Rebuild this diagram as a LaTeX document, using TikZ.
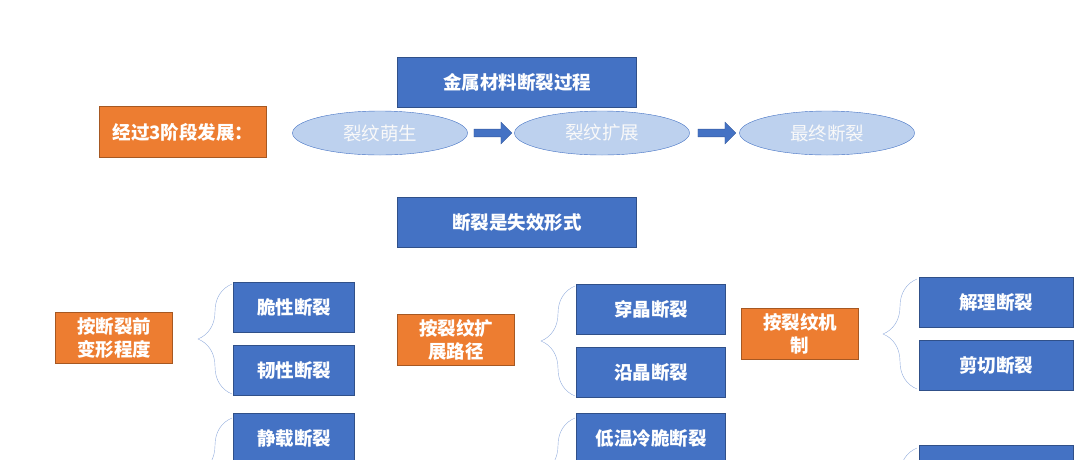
\documentclass[tikz,border=0pt]{standalone}
\usepackage{fontspec}
\setmainfont{Noto Sans CJK SC}
\usetikzlibrary{shapes.geometric,shapes.arrows,decorations.pathreplacing}
\definecolor{boxblue}{HTML}{4472C4}
\definecolor{boxorange}{HTML}{ED7D31}
\definecolor{ellfill}{HTML}{BDD1EE}
\definecolor{bracecol}{HTML}{8FAADC}
\tikzset{
  bluebox/.style={draw=boxblue!70!black,fill=boxblue,text=white,font=\fontsize{18.5}{20}\selectfont\bfseries,
    minimum width=#1,minimum height=50,inner sep=0pt},
  bluebox/.default=121,
  orangebox/.style={draw=boxorange!70!black,fill=boxorange,text=white,font=\fontsize{18.5}{23}\selectfont\bfseries,
    minimum width=117,minimum height=51,inner sep=0pt,align=center},
  stagebox/.style={ellipse,draw=boxblue,fill=ellfill,text=white!95!gray,font=\fontsize{18.5}{20}\selectfont,
    minimum width=175,minimum height=44,inner sep=0pt},
  blockarrow/.style={single arrow,draw=boxblue!80!black,fill=boxblue,minimum width=22,minimum height=38,
    single arrow head extend=4,inner sep=2pt},
  groupbrace/.style={draw=bracecol,decorate,decoration={brace,amplitude=34}},
}
\begin{document}
\begin{tikzpicture}[x=1pt,y=-1pt]
\useasboundingbox (0,0) rectangle (1080,459);
\clip (0,0) rectangle (1080,459);

% title and stages
\node[bluebox=239] (title) at (517,82) {金属材料断裂过程};
\node[orangebox,minimum width=167] (stages) at (183,132) {经过3阶段发展：};
\node[stagebox] (init) at (380,133) {裂纹萌生};
\node[stagebox] (grow) at (602,133) {裂纹扩展};
\node[stagebox] (final) at (827,133) {最终断裂};
\node[blockarrow] (a1) at (491,133) {};
\node[blockarrow] (a2) at (715,133) {};

\node[bluebox=239] (failure) at (517,222) {断裂是失效形式};

% by deformation
\node[orangebox] (deform) at (114,338) {按断裂前\\变形程度};
\node[bluebox] (brittle) at (294,307) {脆性断裂};
\node[bluebox] (ductile) at (294,370) {韧性断裂};
\draw[groupbrace] (232,394) -- (232,284);

% by path
\node[orangebox] (path) at (456,340) {按裂纹扩\\展路径};
\node[bluebox=149] (trans) at (651,309) {穿晶断裂};
\node[bluebox=149] (inter) at (651,372) {沿晶断裂};
\draw[groupbrace] (575,396) -- (575,286);

% by mechanism
\node[orangebox] (mech) at (800,334) {按裂纹机\\制};
\node[bluebox=154] (cleave) at (996,302) {解理断裂};
\node[bluebox=154] (shear) at (996,365) {剪切断裂};
\draw[groupbrace] (917,389) -- (917,279);

% next rows (cut off)
\node[bluebox] (static) at (294,438) {静载断裂};
\draw[groupbrace] (232,528) -- (232,418);
\node[bluebox=149] (cold) at (651,438) {低温冷脆断裂};
\draw[groupbrace] (575,528) -- (575,418);
\node[bluebox=154] (more) at (996,470) {};
\draw[groupbrace] (917,558) -- (917,448);
\end{tikzpicture}
\end{document}
